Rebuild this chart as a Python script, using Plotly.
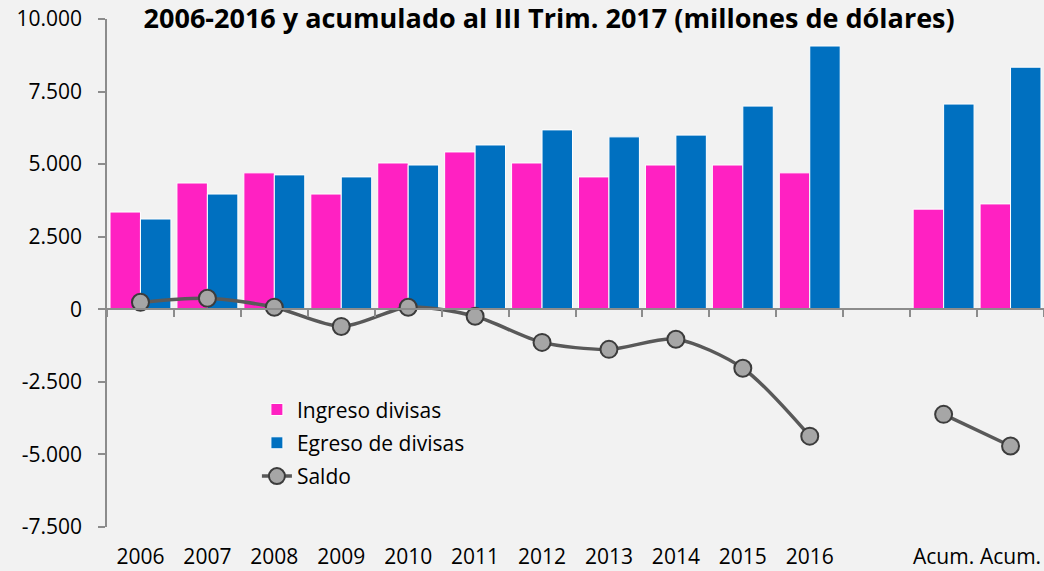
import plotly.graph_objects as go

labels = ["2006", "2007", "2008", "2009", "2010", "2011", "2012", "2013", "2014", "2015", "2016", "", "Acum.", "Acum."]
ingreso = [3350, 4350, 4700, 3970, 5040, 5420, 5040, 4560, 4970, 4970, 4700, None, 3450, 3630]
egreso = [3110, 3970, 4630, 4560, 4970, 5660, 6180, 5940, 6000, 7000, 9070, None, 7070, 8340]
saldo = [240, 380, 70, -590, 70, -240, -1140, -1380, -1030, -2030, -4370, None, -3620, -4710]
yticks = [-7500, -5000, -2500, 0, 2500, 5000, 7500, 10000]
ytick_text = [f"{v:,}".replace(",", ".") for v in yticks]

xs = list(range(len(labels)))
BG = "#f2f2f2"
AX = "#8c8c8c"
FONT = "Open Sans"

fig = go.Figure()
fig.add_trace(go.Bar(x=xs, y=ingreso, name="Ingreso divisas", marker=dict(color="#ff21c2", line=dict(color="#ffffff", width=1)), legendgroup="a"))
fig.add_trace(go.Bar(x=xs, y=egreso, name="Egreso de divisas", marker=dict(color="#0070c0", line=dict(color="#ffffff", width=1)), legendgroup="b"))
fig.add_trace(go.Scatter(x=xs, y=saldo, name="Saldo", mode="lines+markers",
                         line=dict(color="#595959", width=3.5, shape="spline", smoothing=0.8),
                         marker=dict(size=17, color="#a6a6a6", line=dict(color="#3c3c3c", width=2)),
                         connectgaps=False, legendgroup="c"))
# helper trace for the zero-line category axis
fig.add_trace(go.Scatter(x=[0], y=[None], xaxis="x2", showlegend=False, hoverinfo="skip"))

fig.update_layout(
    width=1044, height=571,
    paper_bgcolor=BG, plot_bgcolor=BG,
    margin=dict(l=107, r=0, t=19, b=44),
    barmode="group", bargap=0.09, bargroupgap=0,
    font=dict(family=FONT, size=21, color="#000000"),
    title=dict(text="<b>2006-2016 y acumulado al III Trim. 2017 (millones de dólares)</b>",
               x=0.526, xanchor="center", y=0.968, yanchor="middle",
               font=dict(family=FONT, size=27, color="#000000")),
    showlegend=True,
    legend=dict(x=0.160, xanchor="left", y=0.271, yanchor="top", bgcolor="rgba(0,0,0,0)",
                font=dict(family=FONT, size=21), tracegroupgap=3, traceorder="grouped"),
    xaxis=dict(range=[-0.5, 13.5], tickvals=xs, ticktext=labels, showline=False, showgrid=False,
               zeroline=False, ticks="outside", ticklen=11, tickcolor="rgba(0,0,0,0)",
               tickfont=dict(family=FONT, size=21), automargin=False, fixedrange=True),
    xaxis2=dict(range=[-0.5, 13.5], overlaying="x", anchor="free", position=7500/17500,
                showline=True, linecolor=AX, linewidth=1.5, showgrid=False, zeroline=False,
                tickvals=[i - 0.5 for i in range(len(labels) + 1)], showticklabels=False,
                ticks="outside", ticklen=7, tickwidth=1.5, tickcolor=AX, automargin=False),
    yaxis=dict(range=[-7500, 10000], tickvals=yticks, ticktext=ytick_text, showline=True,
               linecolor=AX, linewidth=1.5, ticks="outside", ticklen=7, tickwidth=1.5, tickcolor=AX,
               ticklabelstandoff=12,
               showgrid=False, zeroline=False, tickfont=dict(family=FONT, size=21), automargin=False),
)

fig.write_html("out.html", config={"displayModeBar": False},
               post_script="document.body.style.margin='0';document.body.style.overflow='hidden';")
